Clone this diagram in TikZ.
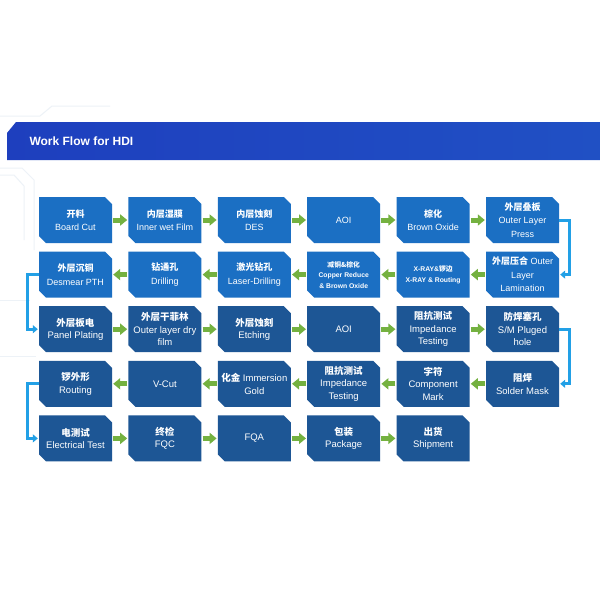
\documentclass[tikz,border=0pt]{standalone}
\usepackage{fontspec}
\setmainfont{Liberation Sans}
\newfontfamily\cjk{Noto Sans CJK SC}
\usetikzlibrary{arrows.meta}

\definecolor{headblue}{HTML}{1E3FBE}
\definecolor{headblueR}{HTML}{2050C4}
\definecolor{lightbox}{HTML}{1B6FC3}
\definecolor{darkbox}{HTML}{1D5695}
\definecolor{flowgreen}{HTML}{74B140}
\definecolor{bendblue}{HTML}{22A0E6}
\definecolor{faintline}{HTML}{EDF2F7}

\newcommand{\zh}[1]{{\cjk\bfseries #1}}

\tikzset{
  flowbox/.style={rectangle, minimum width=73pt, minimum height=46pt, inner sep=1pt,
    text=white, align=center,
    path picture={\fill[#1] (path picture bounding box.north west)
      -- ([xshift=-7pt]path picture bounding box.north east)
      -- ([yshift=-7pt]path picture bounding box.north east)
      -- (path picture bounding box.south east)
      -- ([xshift=7pt]path picture bounding box.south west)
      -- ([yshift=7pt]path picture bounding box.south west) -- cycle;}},
  upperbox/.style={flowbox=lightbox, font=\fontsize{9}{13.5}\selectfont},
  lowerbox/.style={flowbox=darkbox, font=\fontsize{9.5}{12.5}\selectfont},
  flowarrow/.style={flowgreen, line width=5pt, -{Triangle[width=11pt,length=7pt]},
    shorten <=1pt, shorten >=1pt},
  bendarrow/.style={bendblue, line width=3pt, -{Triangle[width=8pt,length=5pt]},
    shorten >=1pt}
}

\begin{document}
\begin{tikzpicture}[x=1pt, y=-1pt]
  \useasboundingbox (0,0) rectangle (600,600);
  \fill[white] (0,0) rectangle (600,600);

  % Faint traces:
  \draw[faintline, line width=1pt] (0,116) -- (40,116) -- (52,106) -- (110,106);
  \draw[faintline, line width=1pt] (0,168) -- (22,168) -- (34,180) -- (34,250);
  \draw[faintline, line width=1pt] (0,175) -- (14,175) -- (24,186) -- (24,240);
  \draw[faintline, line width=1pt] (0,300) -- (30,300);
  \draw[faintline, line width=1pt] (0,356) -- (36,356);

  % Header:
  \shade[left color=headblue, right color=headblueR] (7,133) -- (16,122) -- (600,122) -- (600,160) -- (7,160) -- cycle;
  \node[anchor=west, text=white, font=\bfseries\fontsize{12}{14}\selectfont] (title) at (26,141) {Work Flow for HDI};

  % Row 1:
  \node[upperbox] (cut) at (75.5,220) {\zh{开料}\\Board Cut};
  \node[upperbox] (wetfilm) at (164.9,220) {\zh{内层湿膜}\\Inner wet Film};
  \node[upperbox] (des) at (254.3,220) {\zh{内层蚀刻}\\DES};
  \node[upperbox] (aoiA) at (343.7,220) {AOI};
  \node[upperbox] (brown) at (433.1,220) {\zh{棕化}\\Brown Oxide};
  \node[upperbox] (press) at (522.5,220) {\zh{外层叠板}\\Outer Layer\\Press};

  % Row 2:
  \node[upperbox] (lamin) at (522.5,274.6) {\zh{外层压合} Outer\\Layer\\Lamination};
  \node[upperbox, font=\bfseries\fontsize{6.8}{11}\selectfont] (xray) at (433.1,274.6) {X-RAY\&\zh{锣边}\\X-RAY \& Routing};
  \node[upperbox, font=\bfseries\fontsize{6.8}{10.5}\selectfont] (copper) at (343.7,274.6) {\zh{减铜\&棕化}\\Copper Reduce\\\& Brown Oxide};
  \node[upperbox] (laser) at (254.3,274.6) {\zh{激光钻孔}\\Laser-Drilling};
  \node[upperbox] (drill) at (164.9,274.6) {\zh{钻通孔}\\Drilling};
  \node[upperbox] (desmear) at (75.5,274.6) {\zh{外层沉铜}\\Desmear PTH};

  % Row 3:
  \node[lowerbox] (plating) at (75.5,329.2) {\zh{外层板电}\\Panel Plating};
  \node[lowerbox] (dryfilm) at (164.9,329.2) {\zh{外层干菲林}\\Outer layer dry\\film};
  \node[lowerbox] (etching) at (254.3,329.2) {\zh{外层蚀刻}\\Etching};
  \node[lowerbox] (aoiB) at (343.7,329.2) {AOI};
  \node[lowerbox] (impA) at (433.1,329.2) {\zh{阻抗测试}\\Impedance\\Testing};
  \node[lowerbox] (plug) at (522.5,329.2) {\zh{防焊塞孔}\\S/M Pluged\\hole};

  % Row 4:
  \node[lowerbox] (mask) at (522.5,383.8) {\zh{阻焊}\\Solder Mask};
  \node[lowerbox] (mark) at (433.1,383.8) {\zh{字符}\\Component\\Mark};
  \node[lowerbox] (impB) at (343.7,383.8) {\zh{阻抗测试}\\Impedance\\Testing};
  \node[lowerbox] (gold) at (254.3,383.8) {\zh{化金} Immersion\\Gold};
  \node[lowerbox] (vcut) at (164.9,383.8) {V-Cut};
  \node[lowerbox] (routing) at (75.5,383.8) {\zh{锣外形}\\Routing};

  % Row 5:
  \node[lowerbox] (etest) at (75.5,438.4) {\zh{电测试}\\Electrical Test};
  \node[lowerbox] (fqc) at (164.9,438.4) {\zh{终检}\\FQC};
  \node[lowerbox] (fqa) at (254.3,438.4) {FQA};
  \node[lowerbox] (package) at (343.7,438.4) {\zh{包装}\\Package};
  \node[lowerbox] (ship) at (433.1,438.4) {\zh{出货}\\Shipment};

  % Arrows along the rows:
  \draw[flowarrow] (cut.east) -- (wetfilm.west);
  \draw[flowarrow] (wetfilm.east) -- (des.west);
  \draw[flowarrow] (des.east) -- (aoiA.west);
  \draw[flowarrow] (aoiA.east) -- (brown.west);
  \draw[flowarrow] (brown.east) -- (press.west);

  \draw[flowarrow] (lamin.west) -- (xray.east);
  \draw[flowarrow] (xray.west) -- (copper.east);
  \draw[flowarrow] (copper.west) -- (laser.east);
  \draw[flowarrow] (laser.west) -- (drill.east);
  \draw[flowarrow] (drill.west) -- (desmear.east);

  \draw[flowarrow] (plating.east) -- (dryfilm.west);
  \draw[flowarrow] (dryfilm.east) -- (etching.west);
  \draw[flowarrow] (etching.east) -- (aoiB.west);
  \draw[flowarrow] (aoiB.east) -- (impA.west);
  \draw[flowarrow] (impA.east) -- (plug.west);

  \draw[flowarrow] (mask.west) -- (mark.east);
  \draw[flowarrow] (mark.west) -- (impB.east);
  \draw[flowarrow] (impB.west) -- (gold.east);
  \draw[flowarrow] (gold.west) -- (vcut.east);
  \draw[flowarrow] (vcut.west) -- (routing.east);

  \draw[flowarrow] (etest.east) -- (fqc.west);
  \draw[flowarrow] (fqc.east) -- (fqa.west);
  \draw[flowarrow] (fqa.east) -- (package.west);
  \draw[flowarrow] (package.east) -- (ship.west);

  % Turns between rows:
  \draw[bendarrow] (press.east) -- ++(10,0) |- (lamin.east);
  \draw[bendarrow] (desmear.west) -- ++(-11,0) |- (plating.west);
  \draw[bendarrow] (plug.east) -- ++(10,0) |- (mask.east);
  \draw[bendarrow] (routing.west) -- ++(-11,0) |- (etest.west);
\end{tikzpicture}
\end{document}
